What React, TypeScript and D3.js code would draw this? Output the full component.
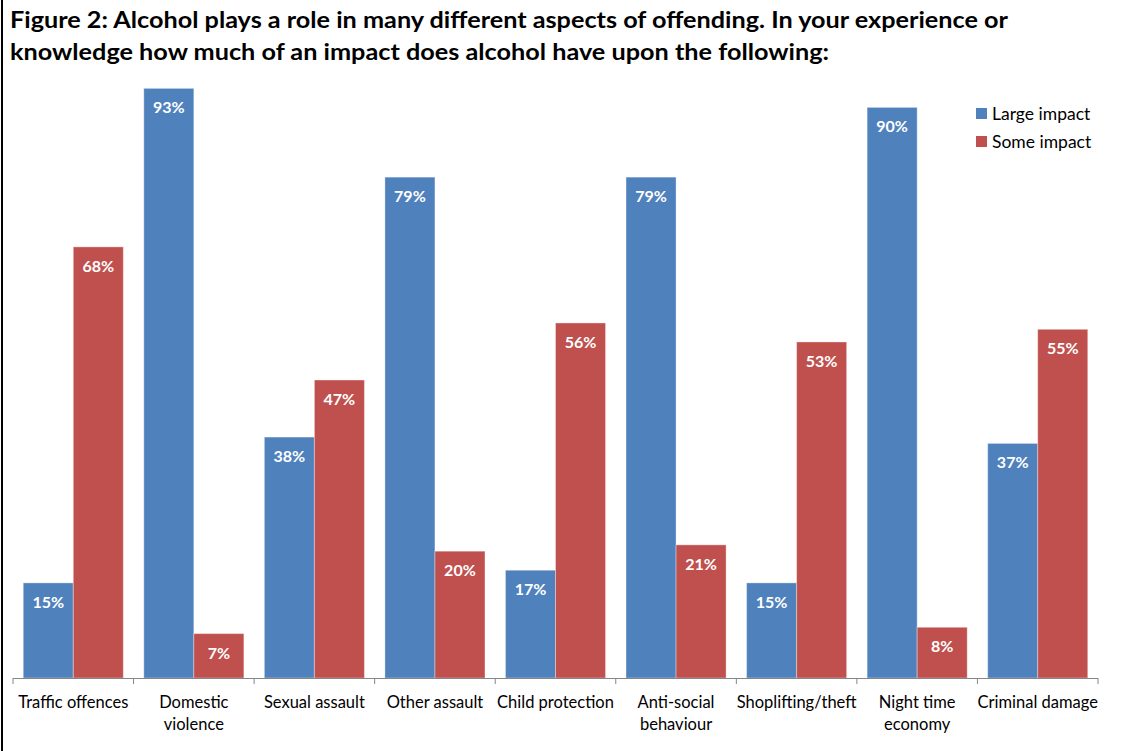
import React from "react";
import * as d3 from "d3";

const categories = [
  ["Traffic offences"],
  ["Domestic", "violence"],
  ["Sexual assault"],
  ["Other assault"],
  ["Child protection"],
  ["Anti-social", "behaviour"],
  ["Shoplifting/theft"],
  ["Night time", "economy"],
  ["Criminal damage"],
];
const largeImpact = [15, 93, 38, 79, 17, 79, 15, 90, 37];
const someImpact = [68, 7, 47, 20, 56, 21, 53, 8, 55];
const seriesNames = ["Large impact", "Some impact"];
const colors = ["#4F81BD", "#C0504D"];
const titleLines = [
  "Figure 2: Alcohol plays a role in many different aspects of offending. In your experience or",
  "knowledge how much of an impact does alcohol have upon the following:",
];
const titleWidths = [998, 819];

const W = 1126;
const H = 751;
const font = "Lato, 'Open Sans', sans-serif";

export default function App() {
  const left = 13;
  const right = 1098;
  const baseY = 678;
  const x0 = d3
    .scaleBand<number>()
    .domain(d3.range(categories.length))
    .range([left, right])
    .paddingInner(0.17)
    .paddingOuter(0.085);
  const x1 = d3.scaleBand<number>().domain([0, 1]).range([0, x0.bandwidth()]);
  const y = d3.scaleLinear().domain([0, 100]).range([baseY, 44]);
  const series = [largeImpact, someImpact];
  const step = (right - left) / categories.length;
  const tickX = d3.range(categories.length + 1).map((i) => left + step * i);

  return (
    <svg
      width={W}
      height={H}
      style={{ position: "absolute", left: 0, top: 0, background: "#fff" }}
      fontFamily={font}
    >
      <rect x={0} y={0} width={W} height={H} fill="#fff" />
      <rect x={1} y={0} width={2} height={H} fill="#000" />
      {titleLines.map((t, i) => (
        <text
          key={i}
          x={10}
          y={28 + i * 32}
          fontSize={22}
          fontWeight={700}
          fill="#000"
          textLength={titleWidths[i]}
          lengthAdjust="spacingAndGlyphs"
        >
          {t}
        </text>
      ))}
      {categories.map((_, ci) =>
        series.map((s, si) => {
          const bx = (x0(ci) as number) + (x1(si) as number);
          const by = y(s[ci]);
          return (
            <g key={`${ci}-${si}`}>
              <rect
                x={bx}
                y={by}
                width={x1.bandwidth()}
                height={baseY - by}
                fill={colors[si]}
                stroke="rgba(255,255,255,0.35)"
                strokeWidth={1}
              />
              <text
                x={bx + x1.bandwidth() / 2}
                y={by + 25}
                textAnchor="middle"
                fontSize={16}
                fontWeight={700}
                fill="#fff"
              >
                {s[ci]}%
              </text>
            </g>
          );
        })
      )}
      <line x1={left} x2={right} y1={baseY + 0.5} y2={baseY + 0.5} stroke="#868686" strokeWidth={1} />
      {tickX.map((tx, i) => (
        <line key={i} x1={tx} x2={tx} y1={baseY} y2={baseY + 6} stroke="#868686" strokeWidth={1} />
      ))}
      {categories.map((lines, ci) => (
        <text key={ci} textAnchor="middle" fontSize={16.5} fill="#000">
          {lines.map((l, li) => (
            <tspan key={li} x={left + step * (ci + 0.5)} y={708 + li * 22}>
              {l}
            </tspan>
          ))}
        </text>
      ))}
      {seriesNames.map((n, i) => (
        <g key={n}>
          <rect x={976} y={108 + i * 28} width={11} height={11} fill={colors[i]} />
          <text x={992} y={120 + i * 28} fontSize={17.5} fill="#000">
            {n}
          </text>
        </g>
      ))}
    </svg>
  );
}
